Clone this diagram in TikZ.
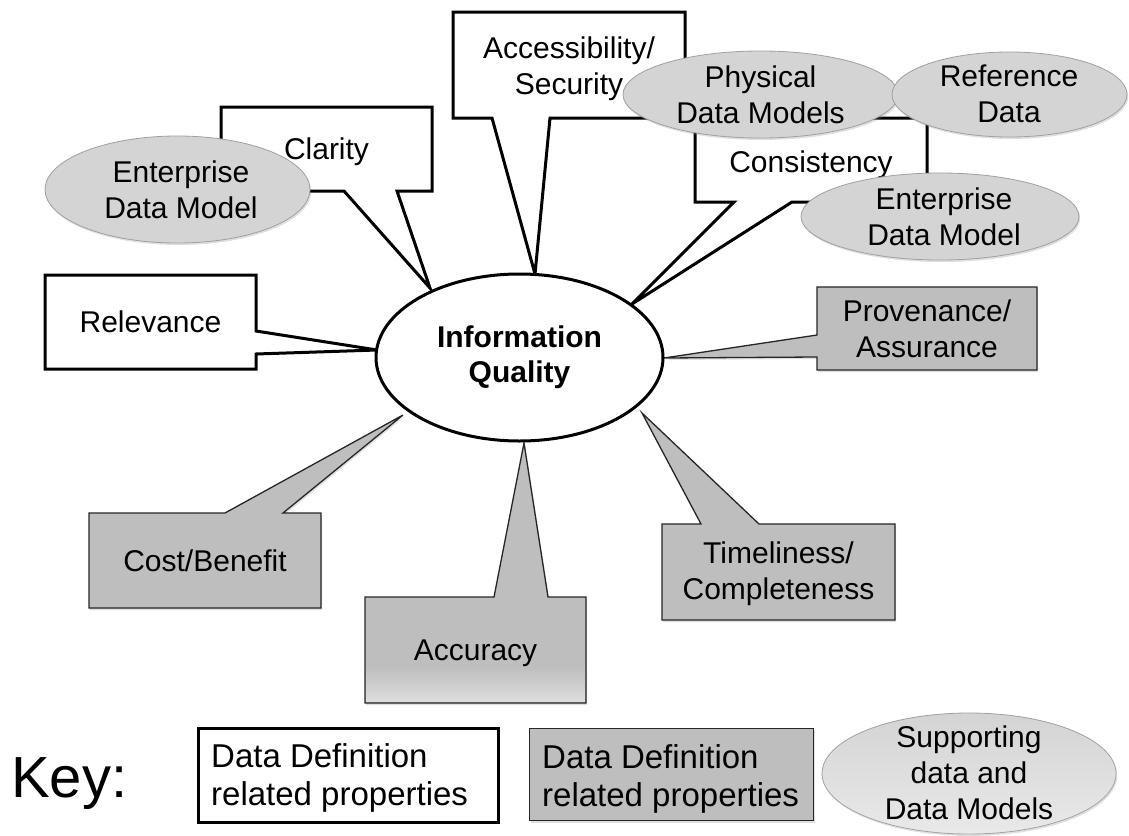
\documentclass[tikz,border=0pt]{standalone}
\usepackage{fontspec}
\setmainfont{Liberation Sans}
\usetikzlibrary{shapes.geometric,shadows,fadings}
\definecolor{boxgray}{HTML}{BEBEBE}
\definecolor{ellgray}{HTML}{D4D4D4}
\definecolor{ellline}{HTML}{A0A0A0}
\definecolor{boxline}{HTML}{262626}
\tikzset{
  softshadow/.style={drop shadow={shadow xshift=1.2pt, shadow yshift=-2pt, opacity=0.25}},
  wcall/.style={draw=black, line width=3pt, fill=white, line join=miter},
  gcall/.style={draw=boxline, line width=1.3pt, fill=boxgray, line join=miter, softshadow},
  suppell/.style={draw=ellline, line width=0.8pt, fill=ellgray, softshadow},
  lbl/.style={font=\fontsize{30}{36}\selectfont, align=center, inner sep=0pt},
  keytxt/.style={font=\fontsize{33}{38}\selectfont, align=left, inner sep=0pt, anchor=north west},
}
\begin{document}
\begin{tikzpicture}[x=1pt,y=-1pt]
\useasboundingbox (0,0) rectangle (1129,835);

% Clarity
\draw[wcall] (221,107) -- (432,107) -- (432,191) -- (397,191) -- (430,288) -- (344,191) -- (221,191) -- cycle;
\node[lbl] (clarity) at (326.5,152) {Clarity};
\draw[suppell] (177.5,189.5) ellipse [x radius=132.5, y radius=53.5];
\node[lbl] (edmA) at (181,190) {Enterprise\\Data Model};

% Relevance
\draw[wcall] (45,275) -- (256,275) -- (256,331) -- (377,350) -- (256,354) -- (256,369) -- (45,369) -- cycle;
\node[lbl] (relevance) at (150.5,322) {Relevance};

% Accessibility / Security
\draw[wcall] (453,12) -- (685,12) -- (685,118) -- (550,118) -- (535,274) -- (492,118) -- (453,118) -- cycle;
\node[lbl] (access) at (569,69) {Accessibility/\\Security};

% Consistency
\draw[wcall] (695,118) -- (927,118) -- (927,202) -- (792,202) -- (632,304) -- (734,202) -- (695,202) -- cycle;
\node[lbl] (consist) at (811,165) {Consistency};

% supporting ellipses, top right
\draw[suppell] (760.5,94.5) ellipse [x radius=137.5, y radius=43.5];
\node[lbl] (phys) at (760.5,94.5) {Physical\\Data Models};
\draw[suppell] (1009.5,94.5) ellipse [x radius=117.5, y radius=42.5];
\node[lbl] (refdata) at (1009,94) {Reference\\Data};
\draw[suppell] (940,216.5) ellipse [x radius=139, y radius=43.5];
\node[lbl] (edmB) at (944,216.5) {Enterprise\\Data Model};

% Provenance / Assurance
\draw[gcall] (817,287) -- (1037,287) -- (1037,370) -- (817,370) -- (817,357) -- (664,358) -- (817,335) -- cycle;
\node[lbl] (prov) at (927,328.5) {Provenance/\\Assurance};

% Cost/Benefit
\draw[gcall] (89,513) -- (225,513) -- (403,415) -- (283,513) -- (321,513) -- (321,608) -- (89,608) -- cycle;
\node[lbl] (cost) at (205,561) {Cost/Benefit};

% Accuracy
\draw[gcall] (365,597) -- (494,597) -- (524,443) -- (548,597) -- (586,597) -- (586,703) -- (365,703) -- cycle;
\fill[white, opacity=0.5, path fading=north] (366,666) rectangle (585,702.3);
\node[lbl] (accuracy) at (475.5,653) {Accuracy};

% Timeliness / Completeness
\draw[gcall] (662,524) -- (701,524) -- (642,413) -- (759,524) -- (895,524) -- (895,620) -- (662,620) -- cycle;
\node[lbl] (timely) at (778.5,574) {Timeliness/\\Completeness};

% central ellipse
\node[draw, line width=3pt, fill=white, ellipse, minimum width=287pt, minimum height=167pt,
      inner sep=0pt, font=\fontsize{30}{35}\selectfont\bfseries, align=center] (iq) at (519.5,357.5) {Information\\Quality};

% Key
\node[anchor=base west, inner sep=0pt, font=\fontsize{58}{60}\selectfont] (keylbl) at (11,797) {Key:};
\node[draw=black, line width=3pt, fill=white, anchor=north west, minimum width=300pt, minimum height=94pt, inner sep=0pt] (keyw) at (197,727) {};
\node[keytxt] (keywt) at (211,743) {Data Definition\\related properties};
\node[draw=boxline, line width=1.3pt, fill=boxgray, softshadow, anchor=north west, minimum width=284pt, minimum height=92pt, inner sep=0pt] (keyg) at (529,728) {};
\node[keytxt] (keygt) at (542,744) {Data Definition\\related properties};
\draw[suppell] (969,773.5) ellipse [x radius=147, y radius=60.5];
\fill[white, opacity=0.5, path fading=north] (969,773.5) ellipse [x radius=146.5, y radius=60];
\node[lbl, anchor=north] (keyet) at (969,726) {Supporting\\data and\\Data Models};
\end{tikzpicture}
\end{document}
